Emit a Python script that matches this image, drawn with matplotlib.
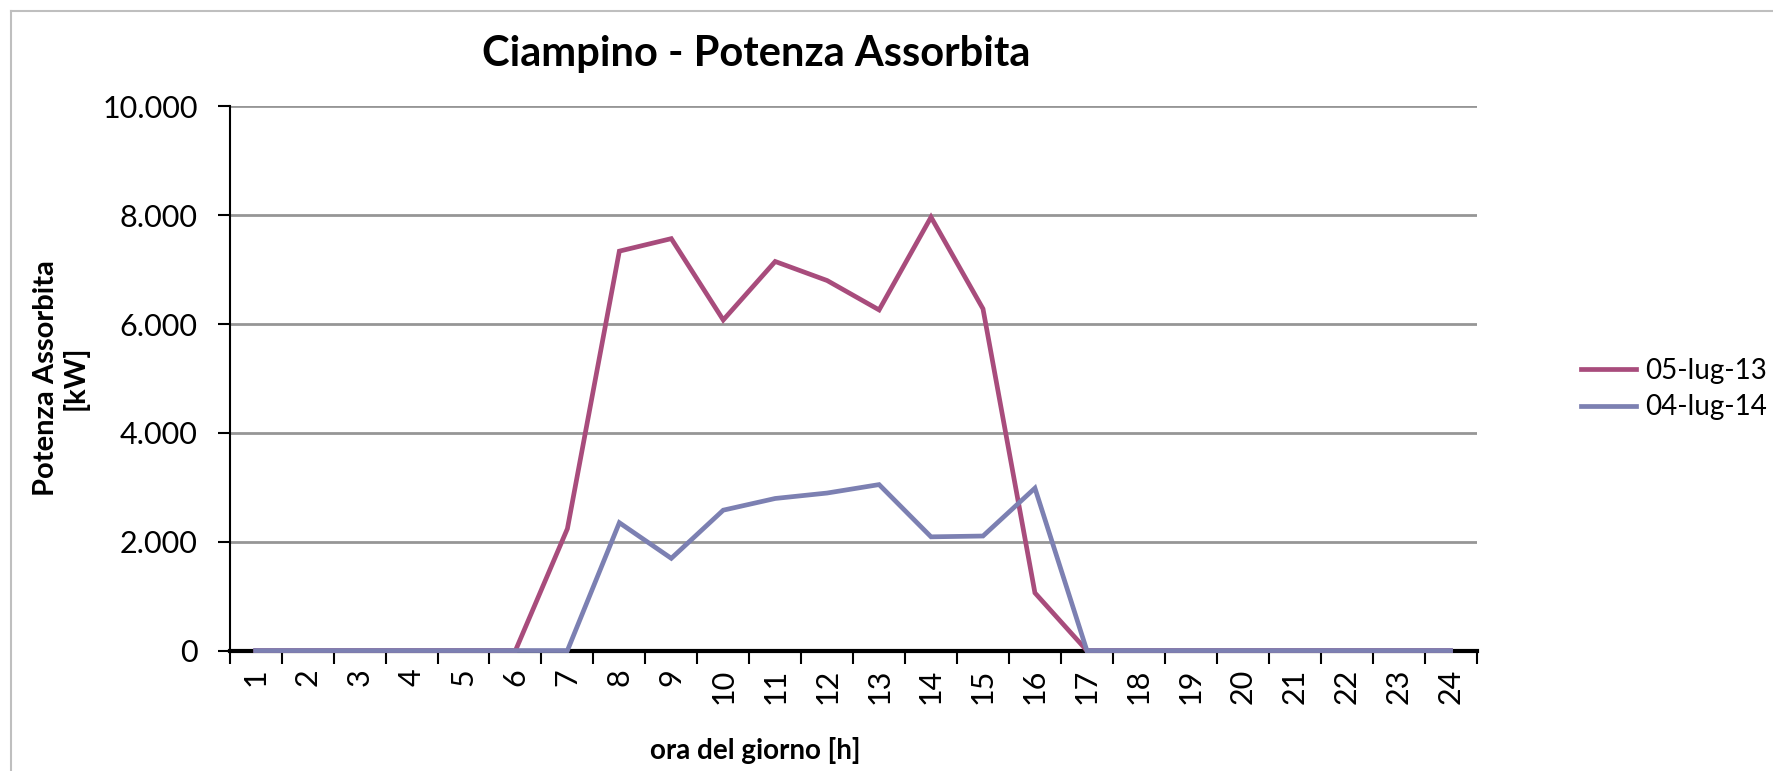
import matplotlib
matplotlib.use("Agg")
import matplotlib.pyplot as plt
from matplotlib.lines import Line2D
from matplotlib.ticker import FuncFormatter, FixedLocator

plt.rcParams['font.family'] = ['Lato', 'DejaVu Sans']

# ore del giorno e potenza assorbita [kW]
ore = list(range(1, 25))
pot_2013 = [0, 0, 0, 0, 0, 0, 2240, 7340, 7570, 6075, 7150, 6800, 6260, 7965,
            6280, 1060, 0, 0, 0, 0, 0, 0, 0, 0]
pot_2014 = [0, 0, 0, 0, 0, 0, 0, 2350, 1695, 2580, 2795, 2895, 3050, 2090,
            2105, 2985, 0, 0, 0, 0, 0, 0, 0, 0]
serie = ['05-lug-13', '04-lug-14']
colori = ['#A84C7C', '#7C80B2']

fig = plt.figure(figsize=(17.74, 7.71), dpi=100)
ax = fig.add_axes([0.1295, 0.1562, 0.7028, 0.7058])

ax.plot(ore, pot_2013, color=colori[0], lw=3.4, label=serie[0], zorder=3,
        clip_on=False, solid_joinstyle='miter')
ax.plot(ore, pot_2014, color=colori[1], lw=3.4, label=serie[1], zorder=4,
        clip_on=False, solid_joinstyle='miter')

ax.set_xlim(0.5, 24.5)
ax.set_ylim(0, 10000)
ax.set_yticks(range(0, 10001, 2000))
ax.yaxis.set_major_formatter(FuncFormatter(lambda v, p: f"{int(v):,}".replace(',', '.')))
ax.set_xticks(ore)
ax.set_xticklabels([str(o) for o in ore], rotation=90)
ax.xaxis.set_minor_locator(FixedLocator([o + 0.5 for o in range(0, 25)]))
ax.tick_params(axis='x', which='major', length=0, pad=13, labelsize=22)
ax.tick_params(axis='x', which='minor', length=9, width=1.5, direction='out')
ax.tick_params(axis='y', which='major', length=9, width=1.5, labelsize=22, pad=14)

ax.grid(axis='y', color='#969696', lw=2, zorder=1)
ax.set_axisbelow(True)
for s in ['top', 'right']:
    ax.spines[s].set_visible(False)
ax.spines['left'].set_linewidth(1.5)
ax.spines['bottom'].set_linewidth(3)
ax.spines['bottom'].set_zorder(2)

fig.text(0.426, 0.026, 'ora del giorno [h]', ha='center', va='center',
         fontsize=20, fontweight='bold')
fig.text(0.0344, 0.510, 'Potenza Assorbita\n[kW]', ha='center', va='center',
         rotation=90, fontsize=21, fontweight='bold', linespacing=1.1)
fig.text(0.426, 0.93, 'Ciampino - Potenza Assorbita', ha='center', va='center',
         fontsize=30, fontweight='bold')

fig.legend(loc='center left', bbox_to_anchor=(0.8833, 0.4955), frameon=False,
           borderpad=0, fontsize=20, handlelength=2.0, handletextpad=0.3,
           labelspacing=0.38)

# bordo dell'area grafico
fig.add_artist(Line2D([11 / 1774, 1], [760 / 771, 760 / 771], color='#BFBFBF', lw=1.5))
fig.add_artist(Line2D([11 / 1774, 11 / 1774], [0, 760 / 771], color='#BFBFBF', lw=1.5))

fig.savefig('out.png', dpi=100)
